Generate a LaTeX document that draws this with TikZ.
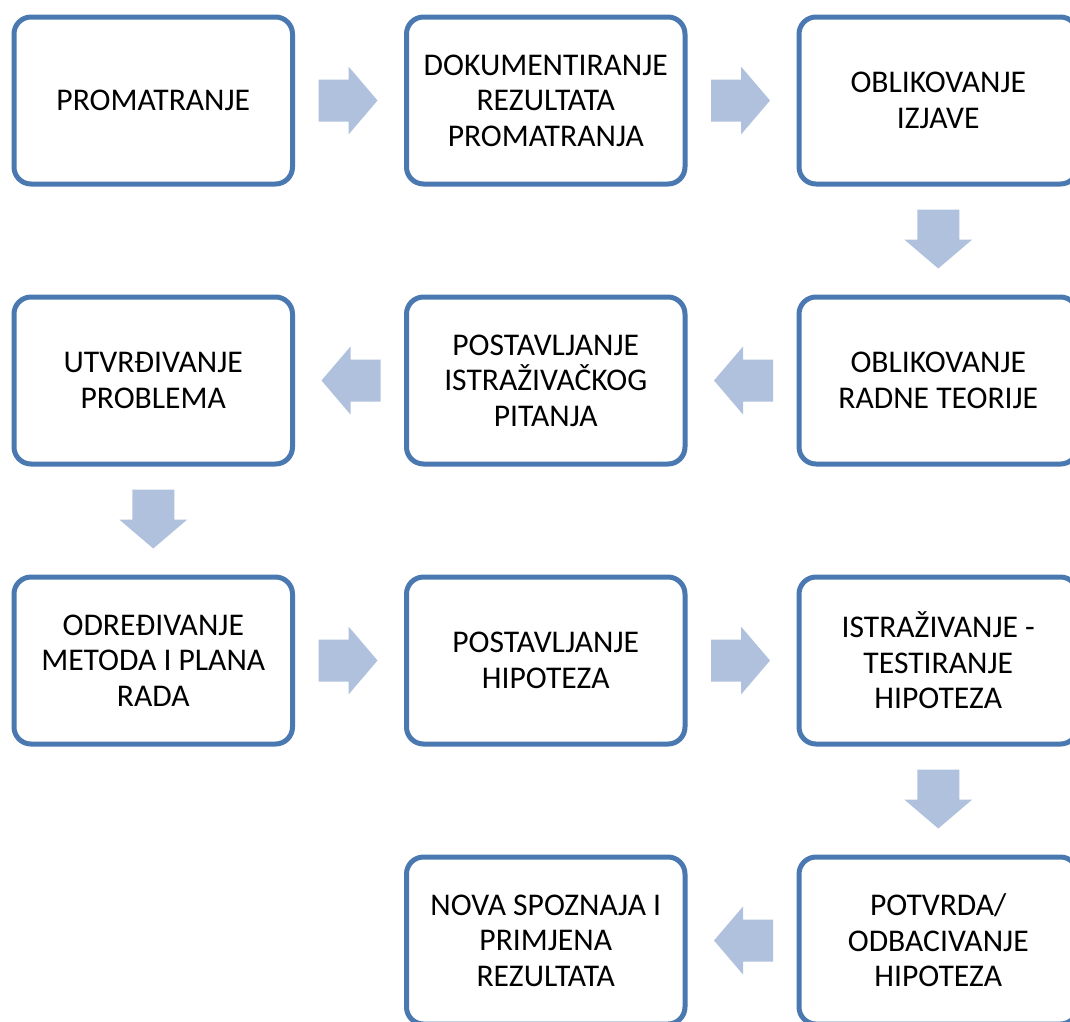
\documentclass[tikz,border=0pt]{standalone}
\usepackage{fontspec}
\setmainfont{Carlito}
\usetikzlibrary{calc}
\definecolor{boxline}{HTML}{4A78B0}
\definecolor{arrowfill}{HTML}{B0C1DD}
\tikzset{
  stepbox/.style={draw=boxline, line width=5pt, rounded corners=17pt, fill=white,
    minimum width=278.5pt, minimum height=167pt, align=center, inner sep=0pt,
    font=\fontsize{31.6}{35.5}\selectfont},
  rarrow/.pic={\fill[arrowfill] (-31,-21) -- (-1,-21) -- (-1,-34) -- (28,0) -- (-1,34) -- (-1,21) -- (-31,21) -- cycle;},
  larrow/.pic={\fill[arrowfill] (31,-21) -- (1,-21) -- (1,-34) -- (-28,0) -- (1,34) -- (1,21) -- (31,21) -- cycle;},
  darrow/.pic={\fill[arrowfill] (-21,-31) -- (-21,-1) -- (-34,-1) -- (0,28) -- (34,-1) -- (21,-1) -- (21,-31) -- cycle;}
}
\begin{document}
\begin{tikzpicture}[x=1pt,y=-1pt]
\useasboundingbox (0,0) rectangle (1070,1021);
% row 1
\node[stepbox] (a1) at (153.25,100.5) {PROMATRANJE};
\node[stepbox] (a2) at (545.75,100.5) {DOKUMENTIRANJE\\REZULTATA\\PROMATRANJA};
\node[stepbox] (a3) at (938.25,100.5) {OBLIKOVANJE\\IZJAVE};
% row 2
\node[stepbox] (b1) at (153.25,380.5) {UTVRĐIVANJE\\PROBLEMA};
\node[stepbox] (b2) at (545.75,380.5) {POSTAVLJANJE\\ISTRAŽIVAČKOG\\PITANJA};
\node[stepbox] (b3) at (938.25,380.5) {OBLIKOVANJE\\RADNE TEORIJE};
% row 3
\node[stepbox] (c1) at (153.25,660.5) {ODREĐIVANJE\\METODA I PLANA\\RADA};
\node[stepbox] (c2) at (545.75,660.5) {POSTAVLJANJE\\HIPOTEZA};
\node[stepbox] (c3) at (938.25,660.5) {ISTRAŽIVANJE -\\TESTIRANJE\\HIPOTEZA};
% row 4
\node[stepbox] (d2) at (545.75,940.5) {NOVA SPOZNAJA I\\PRIMJENA\\REZULTATA};
\node[stepbox] (d3) at (938.25,940.5) {POTVRDA/\\ODBACIVANJE\\HIPOTEZA};
% arrows
\pic at ($(a1.east)!0.5!(a2.west)$) {rarrow};
\pic at ($(a2.east)!0.5!(a3.west)$) {rarrow};
\pic at ($(a3.south)!0.5!(b3.north)$) {darrow};
\pic at ($(b3.west)!0.5!(b2.east)$) {larrow};
\pic at ($(b2.west)!0.5!(b1.east)$) {larrow};
\pic at ($(b1.south)!0.5!(c1.north)$) {darrow};
\pic at ($(c1.east)!0.5!(c2.west)$) {rarrow};
\pic at ($(c2.east)!0.5!(c3.west)$) {rarrow};
\pic at ($(c3.south)!0.5!(d3.north)$) {darrow};
\pic at ($(d3.west)!0.5!(d2.east)$) {larrow};
\end{tikzpicture}
\end{document}
